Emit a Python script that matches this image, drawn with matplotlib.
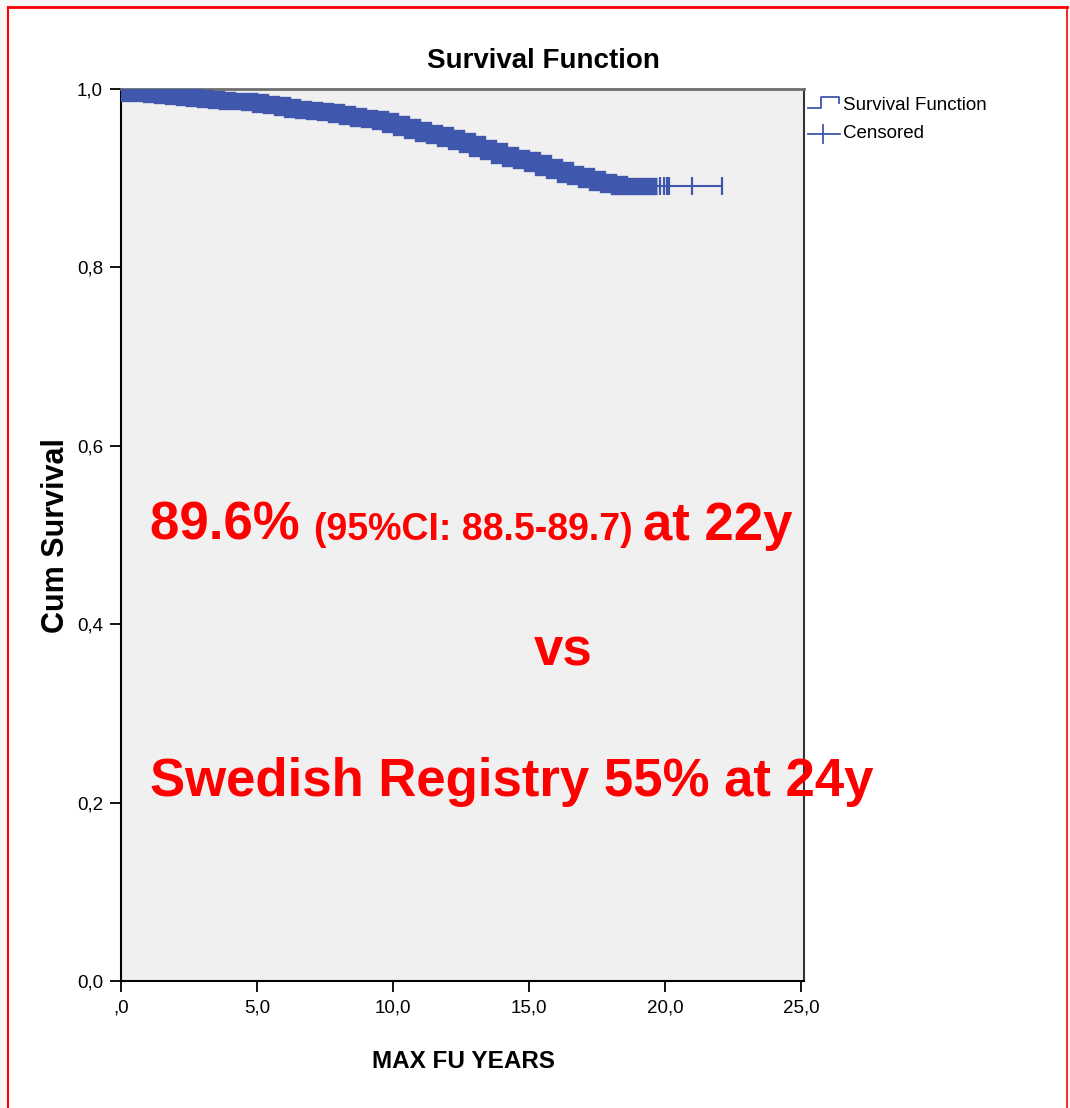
import matplotlib.pyplot as plt
from matplotlib.patches import Rectangle
from matplotlib.lines import Line2D

# ---------------------------
# Data
# ---------------------------
times = [0.0, 0.3, 0.7, 1.1, 1.5, 1.9, 2.3, 2.7, 3.1, 3.5, 3.9, 4.3, 4.7,
         5.1, 5.5, 5.9, 6.3, 6.7, 7.1, 7.5, 7.9, 8.3, 8.7, 9.1, 9.5, 9.9,
         10.3, 10.7, 11.1, 11.5, 11.9, 12.3, 12.7, 13.1, 13.5, 13.9, 14.3,
         14.7, 15.1, 15.5, 15.9, 16.3, 16.7, 17.1, 17.5, 17.9, 18.3, 22.1]
surv = [0.997, 0.996, 0.995, 0.994, 0.993, 0.992, 0.991, 0.990, 0.989, 0.988,
        0.987, 0.986, 0.985, 0.983, 0.982, 0.980, 0.978, 0.977, 0.975, 0.974,
        0.972, 0.970, 0.968, 0.966, 0.964, 0.961, 0.957, 0.954, 0.951, 0.948,
        0.945, 0.942, 0.938, 0.934, 0.930, 0.926, 0.923, 0.920, 0.917, 0.913,
        0.909, 0.905, 0.902, 0.899, 0.896, 0.893, 0.891, 0.891]
dense_censor_end = 19.7          # censored marks overlap into a solid band until here
tail_censored = [19.8, 19.95, 20.05, 20.15, 21.0, 22.1]

y_ticks = [0.0, 0.2, 0.4, 0.6, 0.8, 1.0]
y_labels = ["0,0", "0,2", "0,4", "0,6", "0,8", "1,0"]
x_ticks = [0, 5, 10, 15, 20, 25]
x_labels = [",0", "5,0", "10,0", "15,0", "20,0", "25,0"]

BLUE = "#3f57ad"
RED = "#ff0000"
ARIAL = ["Liberation Sans", "DejaVu Sans"]

W, H = 1070, 1108


def fx(px):
    return px / W


def fy(py):
    return 1 - py / H


fig = plt.figure(figsize=(W / 100, H / 100), dpi=100)
fig.patch.set_facecolor("white")

# page background strip and red frame
fig.patches.append(Rectangle((0, 0), fx(7), 1, transform=fig.transFigure,
                             color="#f7f7f7", zorder=0))
fig.patches.append(Rectangle((0, fy(6)), 1, 6 / H, transform=fig.transFigure,
                             color="#f7f7f7", zorder=0))
fig.lines.append(Line2D([fx(8), fx(8)], [0, fy(7)], transform=fig.transFigure,
                        color=RED, lw=1.5))
fig.lines.append(Line2D([fx(8), fx(1067)], [fy(7), fy(7)], transform=fig.transFigure,
                        color=RED, lw=2))
fig.lines.append(Line2D([fx(1067), fx(1067)], [0, fy(7)], transform=fig.transFigure,
                        color=RED, lw=1.2))

ax = fig.add_axes([fx(121), fy(981), (804 - 121) / W, (981 - 89) / H])
ax.set_facecolor("#f0f0f0")

# dense censored marks form a thick band along the step curve
band_t = [t for t in times if t <= dense_censor_end] + [dense_censor_end]
band_s = surv[:len(band_t) - 1] + [surv[len(band_t) - 2]]
ax.step(band_t, band_s, where="post", color=BLUE, lw=12.5,
        solid_joinstyle="miter", solid_capstyle="butt", zorder=3)
ax.step(times, surv, where="post", color=BLUE, lw=1.5, zorder=4)
ax.plot(tail_censored, [surv[-1]] * len(tail_censored), ls="none", marker="|",
        ms=13, mew=1.6, color=BLUE, zorder=4)

ax.set_xlim(0, 25.1)
ax.set_ylim(0, 1.0)
ax.set_xticks(x_ticks)
ax.set_xticklabels(x_labels, family=ARIAL, fontsize=13.5)
ax.set_yticks(y_ticks)
ax.set_yticklabels(y_labels, family=ARIAL, fontsize=13.5)
ax.tick_params(length=8, width=1.3, color="black", pad=5)

for side in ["left", "bottom"]:
    ax.spines[side].set_color("black")
    ax.spines[side].set_linewidth(1.5)
ax.spines["top"].set_color("#6e6e6e")
ax.spines["top"].set_linewidth(2)
ax.spines["right"].set_color("#333333")
ax.spines["right"].set_linewidth(1.5)

fig.text(fx(543), fy(61), "Survival Function", family=ARIAL, fontsize=20,
         fontweight="bold", ha="center", va="center")
fig.text(fx(463), fy(1062), "MAX FU YEARS", family=ARIAL, fontsize=17.5,
         fontweight="bold", ha="center", va="center")
fig.text(fx(56), fy(536), "Cum Survival", family=ARIAL, fontsize=22,
         fontweight="bold", rotation=90, ha="center", va="center")

# legend drawn by hand (SPSS style)
fig.lines.append(Line2D([fx(808), fx(821), fx(821), fx(839), fx(839)],
                        [fy(108), fy(108), fy(97), fy(97), fy(103)],
                        transform=fig.transFigure, color=BLUE, lw=1.3))
fig.lines.append(Line2D([fx(808), fx(840)], [fy(134), fy(134)],
                        transform=fig.transFigure, color=BLUE, lw=1.3))
fig.lines.append(Line2D([fx(823), fx(823)], [fy(125), fy(143)],
                        transform=fig.transFigure, color=BLUE, lw=1.3))
fig.text(fx(843), fy(106), "Survival Function", family=ARIAL, fontsize=13.5,
         ha="left", va="center")
fig.text(fx(843), fy(134), "Censored", family=ARIAL, fontsize=13.5,
         ha="left", va="center")

# red annotations
t1 = fig.text(fx(150), fy(540), "89.6% ", family=ARIAL, fontsize=38,
              fontweight="bold", color=RED, ha="left", va="baseline")
fig.canvas.draw()
r = fig.canvas.get_renderer()
bb = t1.get_window_extent(r)
t2 = fig.text(bb.x1 / W, fy(540), "(95%CI: 88.5-89.7) ", family=ARIAL, fontsize=27,
              fontweight="bold", color=RED, ha="left", va="baseline")
bb2 = t2.get_window_extent(r)
fig.text(bb2.x1 / W, fy(540), "at 22y", family=ARIAL, fontsize=38,
         fontweight="bold", color=RED, ha="left", va="baseline")
fig.text(fx(563), fy(666), "vs", family=ARIAL, fontsize=38,
         fontweight="bold", color=RED, ha="center", va="baseline")
fig.text(fx(150), fy(796), "Swedish Registry 55% at 24y", family=ARIAL, fontsize=38,
         fontweight="bold", color=RED, ha="left", va="baseline")

fig.savefig("out.png", dpi=100)
plt.close(fig)
